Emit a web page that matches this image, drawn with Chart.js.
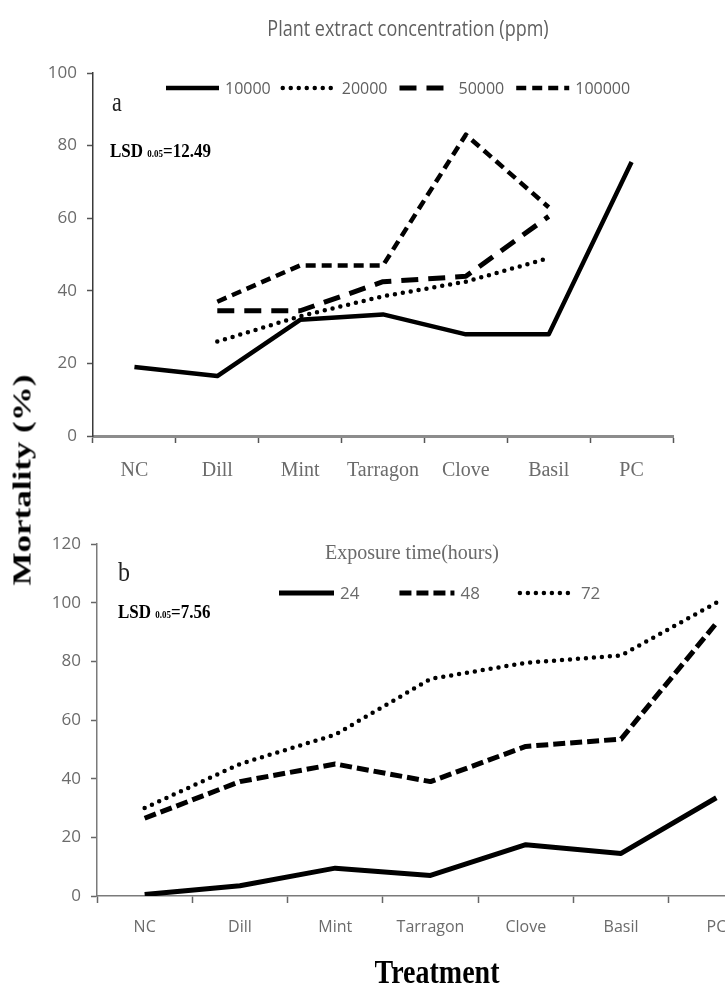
<!DOCTYPE html>
<html>
<head>
<meta charset="utf-8">
<title>Mortality by treatment</title>
<script src="https://cdn.jsdelivr.net/npm/chart.js@4.4.1/dist/chart.umd.min.js"></script>
<style>
  html, body { margin: 0; padding: 0; background: #fff; }
  body { width: 725px; height: 984px; overflow: hidden; position: relative; }
  .wrap { position: absolute; left: 0; }
  #wrapA { top: 0; width: 725px; height: 484px; }
  #wrapB { top: 484px; width: 780px; height: 500px; }
  .note { position: absolute; white-space: nowrap; line-height: 1; transform-origin: center center; }
  .serif { font-family: 'Liberation Serif', 'DejaVu Serif', serif; }
  .sans { font-family: 'Open Sans', 'Liberation Sans', sans-serif; }
  .lsd { font-weight: bold; font-size: 17px; color: #000; transform: translateY(-50%) scaleY(1.15); }
  .lsd small { font-size: 9px; }
</style>
</head>
<body>

<div class="wrap" id="wrapA"><canvas id="chartA"></canvas></div>
<div class="wrap" id="wrapB"><canvas id="chartB"></canvas></div>

<div class="note sans" style="left:408px; top:28px; font-size:18px; color:#5f5f5f; transform:translate(-50%,-50%) scaleY(1.2);">Plant extract concentration (ppm)</div>
<div class="note serif" style="left:112px; top:103px; font-size:22px; color:#222; transform:translateY(-50%) scaleY(1.2);">a</div>
<div class="note serif lsd" style="left:110px; top:151px;">LSD <small>0.05</small>=12.49</div>

<div class="note serif" style="left:412px; top:552px; font-size:20px; color:#6a6a6a; transform:translate(-50%,-50%);">Exposure time(hours)</div>
<div class="note serif" style="left:118px; top:572px; font-size:24px; color:#222; transform:translateY(-50%) scaleY(1.15);">b</div>
<div class="note serif lsd" style="left:118px; top:612px;">LSD <small>0.05</small>=7.56</div>

<div class="note serif" style="left:22px; top:480px; font-size:25px; font-weight:bold; color:#000; transform:translate(-50%,-50%) rotate(-90deg) scaleX(1.4);">Mortality (%)</div>
<div class="note serif" style="left:437px; top:972px; font-size:28px; font-weight:bold; color:#000; transform:translate(-50%,-50%) scaleY(1.22);">Treatment</div>

<script>
// Mortality (%)
const treatments = ['NC', 'Dill', 'Mint', 'Tarragon', 'Clove', 'Basil', 'PC'];

// panel a - plant extract concentration (ppm)
const conc10000 = [19, 16.5, 32, 33.5, 28, 28, 75.5];
const conc20000 = [null, 26, 33, 38.5, 42.5, 49, null];
const conc50000 = [null, 34.5, 34.5, 42.5, 44, 60.5, null];
const conc100000 = [null, 37, 47, 47, 83, 63, null];

// panel b - exposure time (hours)
const hours24 = [0.5, 3.5, 9.5, 7, 17.5, 14.5, 33.5];
const hours48 = [26.5, 39, 45, 39, 51, 53.5, 93];
const hours72 = [30, 45, 55, 74, 79.5, 82, 100];

const SANS = "'Open Sans', 'Liberation Sans', sans-serif";
const SERIF = "'Liberation Serif', 'DejaVu Serif', serif";
const TICK_GRAY = '#6b6b6b';

function series(label, data, dash, width, cap) {
    return {
        label: label,
        data: data,
        borderColor: '#000',
        backgroundColor: '#000',
        borderWidth: width,
        borderDash: dash,
        borderCapStyle: cap || 'butt',
        borderJoinStyle: 'round',
        pointRadius: 0,
        tension: 0,
        spanGaps: false,
        fill: false
    };
}

// legend drawn as line samples, same strokes as the datasets
const lineLegend = {
    id: 'lineLegend',
    afterDraw(chart, args, opts) {
        const ctx = chart.ctx;
        let x = opts.x;
        ctx.save();
        ctx.font = opts.font;
        ctx.textBaseline = 'middle';
        chart.data.datasets.forEach(ds => {
            ctx.beginPath();
            ctx.lineWidth = ds.borderWidth;
            ctx.lineCap = ds.borderCapStyle;
            ctx.setLineDash(ds.borderDash || []);
            ctx.strokeStyle = ds.borderColor;
            ctx.moveTo(x, opts.y);
            ctx.lineTo(x + opts.sample, opts.y);
            ctx.stroke();
            x += opts.sample + opts.textGap;
            ctx.fillStyle = opts.color;
            ctx.fillText(ds.label, x, opts.y + 1);
            x += ctx.measureText(ds.label).width + opts.itemGap;
        });
        ctx.restore();
    }
};

function makeChart(canvasId, datasets, cfg) {
    return new Chart(document.getElementById(canvasId), {
        type: 'line',
        data: { labels: treatments, datasets: datasets },
        options: {
            responsive: true,
            maintainAspectRatio: false,
            animation: false,
            events: [],
            layout: { padding: { top: cfg.top, right: cfg.right, left: 0, bottom: 0 } },
            plugins: {
                legend: { display: false },
                tooltip: { enabled: false },
                lineLegend: cfg.legend
            },
            scales: {
                x: {
                    offset: true,
                    grid: { offset: true, drawOnChartArea: false, tickLength: 7, tickColor: cfg.tickColor, tickWidth: 1.5 },
                    border: { color: cfg.xAxisColor, width: cfg.xAxisWidth },
                    ticks: { font: cfg.xFont, color: TICK_GRAY, padding: cfg.xPad, maxRotation: 0, autoSkip: false },
                    afterFit(s) { s.height = cfg.xHeight; }
                },
                y: {
                    min: 0,
                    max: cfg.yMax,
                    ticks: { stepSize: 20, padding: 10, font: { family: SANS, size: 17 }, color: TICK_GRAY },
                    grid: { drawOnChartArea: false, tickLength: 6, tickColor: cfg.tickColor, tickWidth: 1.5 },
                    border: { color: cfg.yAxisColor, width: 1.5 },
                    afterFit(s) { s.width = cfg.yWidth; }
                }
            }
        },
        plugins: [lineLegend]
    });
}

document.addEventListener('DOMContentLoaded', function() {
    makeChart('chartA', [
        series('10000', conc10000, [], 4.5),
        series('20000', conc20000, [0, 8], 4.5, 'round'),
        series('50000', conc50000, [17, 10], 5),
        series('100000', conc100000, [10, 6], 4.5)
    ], {
        top: 73, right: 52, yWidth: 93, xHeight: 48, yMax: 100,
        xFont: { family: SERIF, size: 20 }, xPad: 16,
        xAxisColor: '#8c8c8c', xAxisWidth: 3, yAxisColor: '#3a3a3a', tickColor: '#555',
        legend: { x: 166, y: 88, sample: 53, textGap: 6, itemGap: 12, font: '16px ' + SANS, color: '#5f5f5f' }
    });

    makeChart('chartB', [
        series('24', hours24, [], 5),
        series('48', hours48, [12, 5], 5),
        series('72', hours72, [0, 8], 4.5, 'round')
    ], {
        top: 60, right: 16, yWidth: 97, xHeight: 88, yMax: 120,
        xFont: { family: SANS, size: 16 }, xPad: 15,
        xAxisColor: '#7a7a7a', xAxisWidth: 1.5, yAxisColor: '#7a7a7a', tickColor: '#666',
        legend: { x: 279, y: 109, sample: 55, textGap: 6, itemGap: 40, font: '17px ' + SANS, color: '#6a6a6a' }
    });
});
</script>
</body>
</html>
